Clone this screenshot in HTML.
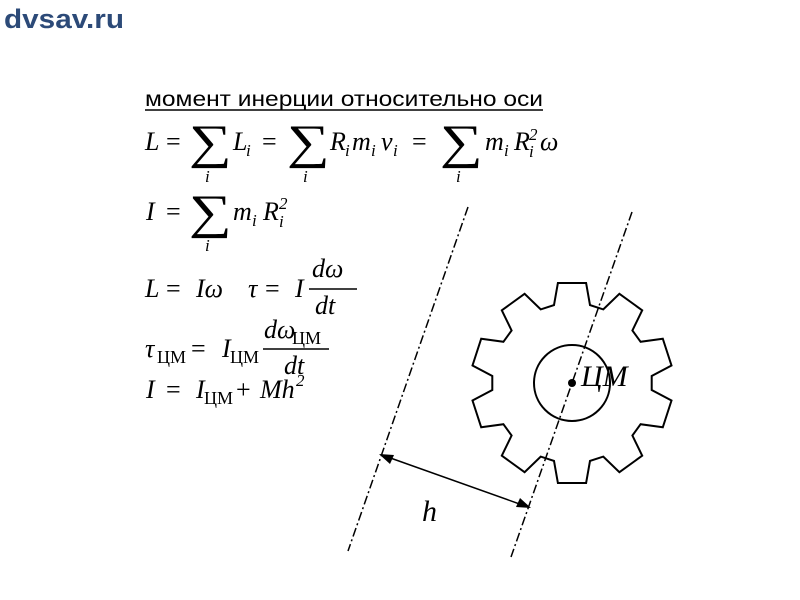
<!DOCTYPE html>
<html><head><meta charset="utf-8"><style>
html,body{margin:0;padding:0;background:#fff;}
svg{display:block}
.m{font-family:"Liberation Serif","DejaVu Serif",serif;font-style:italic;font-size:26px;fill:#000}
.u{font-family:"Liberation Serif","DejaVu Serif",serif;font-size:26px;fill:#000}
.s{font-family:"Liberation Serif","DejaVu Serif",serif;font-size:48px;fill:#000}
.sub{font-family:"Liberation Serif",serif;font-style:italic;font-size:17px}
.cy{font-family:"Liberation Serif",serif;font-style:normal;font-size:18px}
</style></head><body>
<svg width="800" height="600" viewBox="0 0 800 600" xmlns="http://www.w3.org/2000/svg">
<text x="4" y="28" font-family="Liberation Sans,sans-serif" font-weight="bold" font-size="27" fill="#2c4a78" textLength="120" lengthAdjust="spacingAndGlyphs">dvsav.ru</text>
<text x="145" y="106" font-family="Liberation Sans,sans-serif" font-size="21" textLength="398" lengthAdjust="spacingAndGlyphs">момент инерции относительно оси</text>
<line x1="145" y1="110" x2="543" y2="110" stroke="#000" stroke-width="1.5"/>

<!-- line 1 -->
<text class="m" x="145" y="150">L</text><text class="u" x="166" y="150">=</text>
<text class="s" transform="translate(189,158) scale(1.25,1)">∑</text><text class="sub" x="205" y="182">i</text>
<text class="m" x="233" y="150">L</text><text class="sub" x="246" y="156">i</text>
<text class="u" x="262" y="150">=</text>
<text class="s" transform="translate(287,158) scale(1.25,1)">∑</text><text class="sub" x="303" y="182">i</text>
<text class="m" x="330" y="150">R</text><text class="sub" x="345" y="156">i</text>
<text class="m" x="352" y="150">m</text><text class="sub" x="371" y="156">i</text>
<text class="m" x="381" y="150">v</text><text class="sub" x="393" y="156">i</text>
<text class="u" x="412" y="150">=</text>
<text class="s" transform="translate(440,158) scale(1.25,1)">∑</text><text class="sub" x="456" y="182">i</text>
<text class="m" x="485" y="150">m</text><text class="sub" x="504" y="156">i</text>
<text class="m" x="514" y="150">R</text><text class="sub" x="529" y="157">i</text><text class="sub" x="529" y="140" font-style="normal">2</text>
<text class="m" x="540" y="150">ω</text>

<!-- line 2 -->
<text class="m" x="146" y="220">I</text><text class="u" x="166" y="220">=</text>
<text class="s" transform="translate(189,228) scale(1.25,1)">∑</text><text class="sub" x="205" y="251">i</text>
<text class="m" x="233" y="220">m</text><text class="sub" x="252" y="226">i</text>
<text class="m" x="263" y="220">R</text><text class="sub" x="279" y="227">i</text><text class="sub" x="279" y="209" font-style="normal">2</text>

<!-- line 3 -->
<text class="m" x="145" y="297">L</text><text class="u" x="166" y="297">=</text><text class="m" x="196" y="297">Iω</text>
<text class="m" x="248" y="297">τ</text><text class="u" x="265" y="297">=</text><text class="m" x="295" y="297">I</text>
<text class="m" x="312" y="277">dω</text>
<line x1="309" y1="289" x2="357" y2="289" stroke="#000" stroke-width="1.5"/>
<text class="m" x="315" y="314">dt</text>

<!-- line 4 -->
<text class="m" x="145" y="357">τ</text><text class="cy" x="157" y="363">ЦМ</text>
<text class="u" x="191" y="357">=</text>
<text class="m" x="222" y="357">I</text><text class="cy" x="230" y="363">ЦМ</text>
<text class="m" x="264" y="338">dω</text><text class="cy" x="292" y="344">ЦМ</text>
<line x1="263" y1="349" x2="329" y2="349" stroke="#000" stroke-width="1.5"/>
<text class="m" x="284" y="374">dt</text>

<!-- line 5 -->
<text class="m" x="146" y="398">I</text><text class="u" x="166" y="398">=</text>
<text class="m" x="196" y="398">I</text><text class="cy" x="204" y="404">ЦМ</text>
<text class="u" x="236" y="398">+</text>
<text class="m" x="260" y="398">Mh</text><text class="sub" x="296" y="386" font-style="normal">2</text>

<!-- gear -->
<g id="gear" fill="none" stroke="#000" stroke-width="2">
<polygon id="gp" points=""/>
<circle cx="572" cy="383" r="38"/>
</g>
<circle cx="572" cy="383" r="4" fill="#000"/>
<text x="581" y="386" font-family="Liberation Serif,serif" font-style="italic" font-size="30">ЦМ</text>

<!-- axes -->
<line x1="468" y1="207" x2="348" y2="551" stroke="#000" stroke-width="1.5" stroke-dasharray="9,3,2,3"/>
<line x1="632" y1="212" x2="511" y2="557" stroke="#000" stroke-width="1.5" stroke-dasharray="9,3,2,3"/>
<!-- arrow -->
<line x1="382" y1="455" x2="528" y2="507" stroke="#000" stroke-width="1.5"/>
<polygon points="379,454 394,455 390,464" fill="#000"/>
<polygon points="531,508 516,507 520,498" fill="#000"/>
<text x="422" y="521" font-family="Liberation Serif,serif" font-style="italic" font-size="30">h</text>
<script>
var cx=572,cy=383,ro=101,ri=80,pts=[];
for(var k=0;k<10;k++){var a=k*36;
[[a-13,ri],[a-8,ro],[a+8,ro],[a+13,ri]].forEach(function(p){var t=p[0]*Math.PI/180;pts.push((cx+p[1]*Math.sin(t)).toFixed(1)+","+(cy-p[1]*Math.cos(t)).toFixed(1));});}
document.getElementById("gp").setAttribute("points",pts.join(" "));
</script>
</svg>
</body></html>
